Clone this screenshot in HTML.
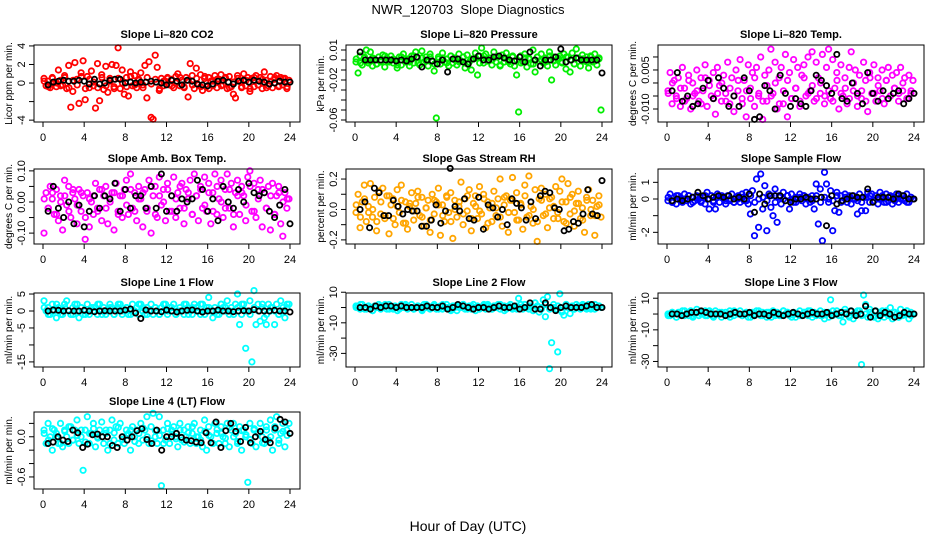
<!DOCTYPE html>
<html><head><meta charset="utf-8"><style>
html,body{margin:0;padding:0;background:#fff;}
svg{display:block;font-family:"Liberation Sans",Arial,sans-serif;}
</style></head><body>
<svg id="chart" width="936" height="540" viewBox="0 0 936 540" xmlns="http://www.w3.org/2000/svg">
<rect width="936" height="540" fill="#fff"/>
<text x="468" y="14" text-anchor="middle" font-size="13">NWR_120703&#160; Slope Diagnostics</text>
<text x="468" y="531" text-anchor="middle" font-size="14">Hour of Day (UTC)</text>
</svg>
<script>
const xTicks = [0,4,8,12,16,20,24];
const co2Col = [0.5,-0.3,0.2,-0.5,0.6,0.1,-0.4,1.4,0.3,-0.2,0.8,-0.6,1.9,-2.6,-0.9,2.2,0.4,-2.2,1.1,2.4,-1.8,0.7,-0.5,1.3,-0.3,-2.7,2.1,-1.9,0.9,-0.7,1.8,-1.0,0.5,2.0,-0.4,1.9,3.8,-0.6,1.4,-1.2,0.6,-1.4,1.2,-0.3,0.8,-0.5,0.4,1.1,-0.2,1.9,-1.6,2.3,-3.7,-3.9,3.0,1.7,-0.8,0.5,-0.3,0.2,0.6,-0.2,0.4,-0.5,0.7,1.0,-0.3,0.3,-0.4,0.6,-1.5,2.1,0.8,-0.6,1.6,-0.2,0.9,-0.8,0.5,-0.4,0.6,0.2,-0.3,0.8,-0.5,0.4,0.9,-0.2,0.5,-0.6,0.7,-0.4,-1.2,-1.6,0.8,0.3,-0.5,1.0,-0.3,0.6,-0.9,0.5,-0.4,0.8,-0.2,0.6,-0.6,1.2,0.3,-0.3,0.7,-0.5,0.4,0.8,-0.4,0.6,-0.2,0.5,-0.6,0.3];
const co2Core = [0.2,-0.4,0.5,0.0,-0.3,0.6,-0.5,0.3,-0.2,0.7,-0.6,0.4,0.1,-0.5,0.6,-0.3,0.2,-0.6,0.5,0.0,-0.4,0.7,-0.2,0.3,-0.5,0.6,-0.1,0.4,-0.6,0.2,0.5,-0.3,0.0,0.6,-0.5,0.3,-0.2,0.5,-0.4,0.7,-0.6,0.2,0.4,-0.3,0.6,-0.5,0.1,0.5,-0.4,0.3,-0.6,0.6,-0.2,0.4,-0.5,0.2,0.6,-0.3,0.5,-0.4];
const co2Blk = [-0.2,0.1,0.2,0.3,0.2,0.2,0.3,0.2,-0.1,0.4,-0.1,0.0,0.3,0.4,0.4,0.0,0.1,0.0,0.1,0.1,0.2,0.1,0.0,-0.2,0.3,0.2,-0.2,0.3,0.2,-0.1,-0.2,-0.3,-0.1,0.2,0.3,0.1,-0.1,0.2,0.3,0.1,0.3,0.2,0.1,-0.1,0.0,0.2,0.1,0.1];
const presCol = [-0.002,-0.013,0.004,-0.005,0.002,0.010,-0.003,0.008,-0.006,0.001,-0.004,0.003,-0.002,0.005,-0.007,0.002,-0.001,0.004,-0.003,0.000,-0.008,0.003,-0.005,0.006,-0.002,0.001,-0.006,0.004,-0.003,0.008,0.002,-0.005,0.009,-0.002,0.003,-0.006,0.006,-0.001,-0.011,-0.058,0.003,-0.004,0.007,-0.002,0.001,-0.006,0.004,-0.003,0.002,-0.005,0.006,-0.001,0.003,-0.008,0.005,-0.002,-0.010,0.001,0.007,-0.015,0.004,0.012,-0.003,0.006,-0.001,0.002,-0.005,0.008,-0.002,0.003,-0.006,0.005,-0.002,0.007,0.001,-0.004,0.003,-0.006,-0.015,-0.052,0.004,-0.002,0.006,-0.007,0.002,-0.004,0.010,-0.012,0.003,-0.001,0.006,-0.003,0.002,-0.006,0.008,-0.020,0.003,-0.005,0.001,0.004,-0.002,0.006,-0.009,0.003,-0.012,0.007,-0.004,0.011,0.002,-0.006,0.005,-0.001,0.003,-0.008,0.004,-0.002,0.006,-0.005,0.001,-0.050];
const presCore = [0.001,-0.003,0.003,-0.001,0.002,-0.004,0.000,0.004,-0.002,0.001,-0.005,0.003,0.000,-0.002,0.004,-0.003,0.002,-0.001,0.003,-0.004,0.001,0.002,-0.003,0.004,0.000,-0.002,0.003,-0.004,0.001,0.002,-0.003,0.004,-0.001,0.000,0.003,-0.005,0.002,-0.002,0.004,0.000,-0.003,0.002,0.001,-0.004,0.003,0.000,-0.002,0.004,-0.001,0.002,-0.003,0.003,0.000,-0.004,0.002,0.001,-0.002,0.003,-0.001,0.002];
const presBlk = [0.008,0.000,0.000,0.000,0.000,0.000,0.000,-0.001,0.000,-0.001,0.001,0.003,-0.007,0.000,-0.001,-0.004,0.000,-0.012,0.001,0.001,-0.002,-0.004,0.001,0.004,0.000,0.000,0.003,0.004,0.002,0.000,-0.001,0.003,-0.002,0.008,0.000,-0.006,0.000,0.000,0.003,0.011,-0.002,0.000,0.002,0.000,0.000,0.000,0.000,-0.013];
const tempCol = [-0.003,0.004,-0.008,0.001,-0.005,0.002,-0.009,0.006,-0.002,-0.006,0.003,-0.010,0.000,-0.004,0.005,-0.007,0.002,-0.003,0.007,-0.009,0.001,-0.005,0.004,-0.012,0.006,-0.001,-0.007,0.003,-0.004,0.008,-0.008,0.002,-0.011,0.005,-0.003,0.009,-0.006,0.001,-0.013,0.007,-0.002,0.004,-0.009,0.006,-0.005,0.010,-0.014,0.003,-0.007,0.005,0.013,-0.004,0.008,-0.010,0.002,0.006,-0.008,0.011,-0.013,0.004,-0.006,0.009,-0.002,0.006,-0.009,0.003,0.007,-0.005,0.010,-0.003,0.012,-0.007,0.008,0.002,-0.004,0.011,-0.008,0.006,0.013,-0.006,0.009,-0.002,0.004,-0.010,0.007,-0.005,0.002,-0.008,0.006,0.012,-0.003,0.005,-0.009,0.003,-0.006,0.008,0.001,-0.011,0.004,-0.004,0.007,-0.007,0.002,-0.003,0.005,-0.008,0.001,0.006,-0.005,0.003,-0.002,0.004,-0.007,0.006,-0.003,0.002,-0.006,0.003,-0.004,0.001];
const tempCore = [-0.004,0.000,-0.006,-0.002,-0.007,0.001,-0.005,-0.003,-0.008,0.002,-0.001,-0.006,-0.004,0.000,-0.007,-0.002,-0.005,0.001,-0.008,-0.003,-0.006,0.002,-0.004,-0.007,-0.001,-0.005,0.000,-0.008,-0.003,0.001,-0.006,-0.002,-0.007,0.002,-0.004,-0.001,-0.006,0.000,-0.005,-0.003,-0.007,0.001,-0.004,-0.002,-0.006,0.000,-0.005,-0.003,-0.007,0.002,-0.004,-0.001,-0.006,0.001,-0.005,-0.002,-0.004,0.000,-0.006,-0.003];
const tempBlk = [-0.003,0.004,-0.007,-0.005,-0.009,-0.008,-0.002,0.001,-0.006,0.002,-0.002,-0.009,-0.005,-0.009,0.002,-0.003,-0.014,-0.013,-0.001,-0.003,-0.010,0.003,-0.004,-0.009,-0.006,-0.008,-0.009,-0.003,0.003,0.001,-0.001,-0.004,0.011,-0.006,-0.007,0.000,-0.004,-0.008,0.004,-0.004,-0.007,-0.003,-0.006,-0.004,-0.003,-0.008,-0.006,-0.004];
const ambCol = [-0.10,0.03,-0.02,0.05,0.01,-0.04,0.04,-0.06,0.02,-0.09,0.07,-0.01,0.05,-0.05,0.03,0.01,-0.07,0.04,-0.03,0.02,-0.12,0.03,-0.08,0.00,-0.04,0.06,-0.02,0.04,-0.06,0.02,0.05,-0.07,0.01,0.03,-0.09,0.06,-0.03,0.02,-0.05,0.04,0.07,-0.04,0.09,-0.02,0.03,-0.06,0.05,0.01,-0.08,0.04,-0.03,0.07,-0.10,0.02,0.05,-0.05,0.08,-0.01,0.04,-0.06,0.06,-0.03,0.02,0.08,-0.05,0.03,-0.02,0.06,-0.07,0.04,0.01,0.07,-0.04,0.09,0.02,-0.06,0.05,-0.02,0.08,-0.03,0.06,-0.07,0.03,0.09,-0.04,0.01,0.07,-0.05,0.04,0.09,-0.02,0.06,-0.08,0.03,0.07,-0.04,0.05,0.02,-0.06,0.08,0.10,-0.03,0.06,-0.05,0.04,0.07,-0.08,0.03,-0.02,0.05,-0.09,0.06,-0.04,0.02,0.05,-0.07,-0.11,0.03,-0.02,0.01];
const ambCore = [0.01,-0.02,0.03,-0.04,0.00,0.02,-0.03,0.04,-0.01,0.03,-0.05,0.01,0.02,-0.03,0.04,-0.02,0.00,0.03,-0.04,0.02,-0.01,0.04,-0.03,0.01,0.03,-0.02,0.05,-0.04,0.02,0.00,0.04,-0.03,0.01,0.05,-0.02,0.03,-0.04,0.02,0.04,-0.01,0.03,-0.03,0.05,0.00,-0.02,0.04,-0.04,0.02,0.03,-0.01,0.05,-0.03,0.01,0.04,-0.02,0.02,-0.04,0.03,0.00,0.01];
const ambBlk = [-0.03,0.05,-0.02,-0.05,0.00,-0.07,-0.01,-0.08,-0.03,0.02,-0.02,0.02,0.01,0.06,-0.03,0.04,-0.02,0.02,0.02,-0.02,0.05,-0.02,0.09,-0.03,0.02,-0.03,0.01,0.00,0.01,0.07,0.04,-0.03,0.01,-0.06,0.05,0.00,-0.02,0.04,0.00,0.06,0.03,0.02,0.03,-0.03,-0.05,-0.01,0.04,-0.07];
const rhCol = [-0.02,0.10,-0.12,0.05,0.16,-0.08,0.02,0.17,-0.05,0.08,-0.14,0.12,-0.03,0.14,-0.06,0.09,-0.16,0.03,0.07,-0.10,0.13,-0.02,0.16,-0.09,0.05,-0.13,0.02,0.11,-0.07,0.04,0.12,-0.04,0.08,-0.11,0.01,0.06,-0.15,0.10,-0.03,0.05,0.14,-0.17,0.03,-0.08,0.09,-0.02,0.11,-0.19,0.06,-0.05,0.02,0.18,-0.10,0.07,-0.01,0.13,-0.14,0.04,0.09,-0.06,0.15,-0.03,0.10,-0.12,0.05,0.01,-0.08,0.12,-0.04,0.07,0.20,-0.11,0.03,0.09,-0.15,0.06,0.21,-0.02,0.11,-0.07,0.04,-0.13,0.16,-0.05,0.22,0.02,-0.09,0.13,-0.21,0.07,0.14,-0.04,0.10,-0.12,0.01,0.08,-0.06,0.15,-0.02,0.12,0.20,-0.08,0.05,0.17,-0.03,0.10,-0.11,0.04,0.12,-0.06,0.01,-0.15,0.08,0.13,-0.04,0.06,-0.17,0.02,0.09,-0.05];
const rhCore = [0.03,-0.05,0.07,-0.02,0.00,-0.08,0.05,-0.04,0.09,-0.06,0.02,0.06,-0.09,0.04,-0.01,0.08,-0.05,0.01,-0.07,0.06,0.03,-0.04,0.08,-0.08,0.00,0.05,-0.03,0.09,-0.06,0.02,-0.01,0.07,-0.09,0.04,0.01,-0.05,0.08,-0.02,0.06,-0.07,0.03,0.09,-0.04,0.00,-0.08,0.06,-0.03,0.07,0.02,-0.06,0.05,-0.09,0.08,-0.01,0.04,-0.07,0.06,0.00,-0.04,0.03];
const rhBlk = [0.00,0.05,-0.12,0.14,0.11,-0.04,-0.04,0.06,0.02,-0.03,0.00,-0.01,-0.01,-0.11,-0.11,-0.07,0.03,-0.09,-0.01,0.27,0.02,-0.01,0.07,-0.06,-0.07,0.08,-0.13,0.03,0.01,-0.05,0.00,-0.10,0.07,0.04,0.01,-0.07,0.05,-0.06,0.09,0.12,0.11,0.01,0.00,-0.14,-0.13,-0.08,-0.09,-0.03,0.13,-0.03,-0.04,0.19];
const sampCol = [-0.1,0.3,-0.2,0.1,-0.3,0.2,0.0,-0.2,0.3,-0.1,0.2,-0.3,0.1,-0.1,0.2,0.0,-0.2,0.1,-0.3,0.4,-0.6,0.2,-0.1,-0.6,0.3,-0.2,0.1,0.0,-0.3,0.2,-0.1,0.3,-0.2,0.1,0.0,-0.2,0.3,-0.1,0.4,-0.3,-0.9,0.5,-2.2,1.2,-1.7,1.5,-0.6,0.8,-1.9,0.3,-0.5,-1.0,0.6,-1.4,0.2,-0.3,0.4,-0.1,0.2,-0.6,0.3,-0.2,0.1,0.0,0.3,-0.1,0.2,-0.3,0.1,-0.2,0.2,-0.6,0.9,-1.5,0.6,-2.5,1.6,0.9,-0.2,0.5,-1.9,-0.7,0.4,-0.8,0.2,-0.1,0.3,-0.2,0.1,-0.3,0.2,0.0,-0.9,0.3,-0.7,0.1,-0.7,0.4,-0.2,0.3,-0.1,0.2,-0.3,0.4,0.0,-0.2,0.3,-0.1,0.2,-0.3,0.1,0.3,-0.2,0.0,0.2,-0.1,0.3,-0.2,0.1,0.0];
const sampCore = [0.1,-0.2,0.2,-0.1,0.0,0.2,-0.2,0.1,-0.1,0.2,0.0,-0.2,0.1,0.2,-0.1,0.0,-0.2,0.2,0.1,-0.1,0.2,-0.2,0.0,0.1,-0.1,0.2,-0.2,0.1,0.0,0.2,-0.1,-0.2,0.1,0.2,0.0,-0.1,0.2,-0.2,0.1,0.0,-0.1,0.2,-0.2,0.1,0.2,0.0,-0.1,-0.2,0.1,0.2,-0.1,0.0,0.2,-0.2,0.1,-0.1,0.2,0.0,-0.2,0.1];
const sampBlk = [-0.1,0.0,-0.1,0.0,0.1,0.4,0.2,0.0,0.1,0.2,0.1,0.2,0.0,0.1,0.0,0.3,-0.8,0.3,-0.3,0.2,0.2,0.2,-0.1,-0.2,0.0,0.0,0.1,0.0,0.0,0.1,-1.6,0.2,-0.3,-0.1,0.0,0.2,0.1,0.1,0.6,-0.2,0.1,0.1,0.1,0.0,0.3,0.2,0.0,0.0];
const l1Col = [3,0,1,-1,2,0,-2,1,0,-1,2,3,0,-1,1,2,0,-2,1,-1,0,2,-1,1,0,1,-1,2,0,1,-1,0,2,1,-1,0,1,2,-1,0,1,-1,0,2,0,1,-1,2,0,-1,1,0,2,-1,1,0,-1,1,0,2,-1,1,0,2,-1,0,1,0,-1,2,1,0,-1,2,1,0,-1,2,0,1,4,0,-2,1,0,-1,2,1,0,3,-1,1,0,2,5,-4,-1,2,-11,0,3,-15,6,-4,2,-3,1,-2,-4,2,0,1,-4,2,-1,3,0,-2,1,2];
const l1Core = [1,-1,0,2,-1,1,0,-1,2,1,-1,0,1,2,-1,0,1,-1,2,0,1,-1,0,2,1,-1,0,1,-1,2,0,1,-1,0,2,-1,1,0,2,-1,1,0,-1,2,1,0,-1,1,2,0,-1,1,0,2,-1,1,0,-1,1,2];
const l1Blk = [0,0.3,0.2,0,0.1,0,0,0.2,0,-0.2,0,0.1,0,0,0,0.3,0.6,-0.6,-2.2,0.3,0,0,-0.2,0.3,0,-0.3,0,0.2,0.3,0,-0.3,0,0,0.3,0,0,-0.2,0,0.1,0,0.4,0,0,0,0.2,0,0,-0.3];
const l2Col = [1,0,-1,2,0,-1,1,0,-2,1,0,2,-1,0,1,-1,2,0,-1,1,0,-1,2,0,1,-1,0,2,-1,0,1,0,-1,2,0,1,-1,0,2,-1,0,1,-1,0,2,0,-1,1,0,-2,1,0,2,-1,0,1,-1,2,0,1,-1,0,1,-1,2,0,-1,1,0,2,-1,0,1,-1,0,2,-1,0,1,6,0,-1,2,0,-1,1,-2,3,1,-3,-1,5,-6,7,-40,-23,2,-1,-29,9,-3,-5,2,0,-4,1,-1,2,0,-1,1,0,-1,2,0,1,-1,0,1,0];
const l2Core = [0,2,-1,1,-2,0,1,2,-1,0,-2,1,2,0,-1,1,-2,2,0,1,-1,2,0,-2,1,0,2,-1,1,-2,0,2,1,-1,0,2,-2,1,0,-1,2,0,1,-2,1,0,2,-1,0,1,-2,2,0,-1,1,2,0,-1,2,1];
const l2Blk = [0,0,-1,1,0,1,1,0,1,0,0,0,0,1,0,0,1,-1,0,2,1,0,-1,0,0,-1,0,1,0,0,1,-1,0,3,-1,-1,3,0,-2,0,1,0,0,0,1,2,0,0];
const l3Col = [0,-1,1,0,-2,1,0,2,-1,0,1,2,-1,0,3,-1,1,0,2,-1,0,1,-1,2,0,1,-2,0,1,-1,2,0,-1,1,0,2,-1,0,1,-2,0,1,-1,2,0,-1,1,0,-2,1,0,2,-1,1,0,-1,2,0,1,-1,0,1,-2,0,2,-1,1,0,-1,2,0,1,-1,0,2,-1,-3,0,1,9,-1,0,2,-1,1,-5,3,0,-1,2,-3,1,0,2,-32,12,6,-2,3,0,-1,2,-3,1,0,-2,2,-1,4,-3,1,0,-2,3,-1,0,2,-3,1,0];
const l3Core = [-1,1,-2,0,2,-1,-2,1,0,-1,2,-2,0,1,-1,-2,2,0,-1,1,-2,0,2,-1,1,-2,0,-1,2,1,-2,0,-1,1,2,-2,0,-1,1,-2,2,0,-1,1,-2,0,2,-1,0,1,-2,-1,2,0,-1,1,-2,0,2,-1];
const l3Blk = [0,0,-1,0,1,1,2,1,0,0,0,-1,0,1,0,0,1,-1,0,0,-1,1,0,-1,0,1,0,-1,0,1,0,0,1,-1,0,1,0,2,-1,0,5,-2,2,-1,1,0,-2,-1,1,0,0];
const l4Col = [0.1,-0.1,0.2,0.0,-0.2,0.1,0.05,-0.1,0.2,-0.15,0.1,0.0,-0.1,0.15,-0.05,0.1,0.25,-0.1,0.0,-0.5,0.1,0.3,-0.1,0.05,0.2,-0.15,0.0,0.1,0.22,-0.1,0.05,-0.2,0.1,0.25,-0.05,0.15,-0.1,0.2,0.0,-0.1,0.1,0.05,-0.2,0.15,0.0,0.1,-0.1,0.2,-0.05,0.1,0.3,-0.1,0.15,0.35,0.0,-0.1,0.3,-0.73,0.1,-0.05,0.2,-0.1,0.1,0.15,0.0,-0.15,0.2,-0.05,0.1,0.0,0.15,-0.1,0.05,0.2,-0.1,0.0,0.1,-0.15,0.25,-0.2,0.15,0.0,-0.1,0.2,0.05,-0.1,0.15,0.0,-0.1,0.2,-0.15,0.1,0.2,0.05,-0.1,0.15,-0.2,0.1,0.0,-0.68,0.2,-0.1,0.1,-0.15,0.05,0.2,0.0,-0.1,0.15,-0.05,0.25,-0.2,0.1,0.3,-0.1,0.05,0.2,-0.15,0.1,0.2];
const l4Core = [0.05,-0.05,0.12,0.0,-0.1,0.08,0.15,-0.05,0.02,0.1,-0.08,0.05,0.12,-0.02,0.0,0.1,-0.1,0.06,0.14,-0.04,0.02,0.1,-0.07,0.05,0.13,0.0,-0.06,0.09,0.02,-0.1,0.12,0.04,-0.03,0.1,-0.08,0.06,0.15,0.0,-0.05,0.08,0.02,-0.1,0.11,0.05,-0.02,0.14,0.0,-0.07,0.09,0.03,-0.04,0.12,0.06,-0.09,0.1,0.0,0.15,-0.05,0.08,0.02];
const l4Blk = [-0.1,-0.08,0.0,-0.05,-0.07,0.1,0.06,-0.16,-0.11,0.03,0.04,0.0,0.0,-0.13,-0.16,0.0,-0.05,0.0,0.09,0.12,-0.04,-0.1,0.1,-0.2,0.0,0.0,0.05,-0.01,-0.05,-0.06,-0.08,-0.09,0.06,-0.09,0.22,-0.16,0.09,0.2,0.08,-0.07,0.14,-0.09,0.0,0.08,-0.04,-0.09,0.13,0.26,0.22,0.05];

const co2Ticks=[4,2,0,-2,-4], co2Labels=["4","2","0","","-4"];
const presTicks=[0.01,0,-0.01,-0.02,-0.03,-0.04,-0.05,-0.06], presLabels=["0.01","","","-0.02","","","","-0.06"];
const tempTicks=[0.010,0.005,0,-0.005,-0.010], tempLabels=["","0.005","","","-0.010"];
const ambTicks=[0.10,0.05,0,-0.05,-0.10], ambLabels=["0.10","","0.00","","-0.10"];
const rhTicks=[0.2,0.1,0,-0.1,-0.2], rhLabels=["0.2","","0.0","","-0.2"];
const sampTicks=[1,0,-1,-2], sampLabels=["1","0","","-2"];
const l1Ticks=[5,0,-5,-10,-15], l1Labels=["5","0","-5","","-15"];
const l2Ticks=[10,0,-10,-20,-30], l2Labels=["10","","-10","","-30"];
const l3Ticks=[10,0,-10,-20,-30], l3Labels=["10","","-10","","-30"];
const l4Ticks=[0.2,0,-0.2,-0.4,-0.6], l4Labels=["","0.0","","","-0.6"];

const panels = [
 {name:"co2",title:"Slope Li\u2013820 CO2",ylab:"Licor ppm per min.",col:0,row:0,ymin:-4.2,ymax:4.1,c:co2Col,k:co2Core,b:co2Blk,t:co2Ticks,tl:co2Labels,color:"#ff0000",xl:true},
 {name:"pressure",title:"Slope Li\u2013820 Pressure",ylab:"kPa per min.",col:1,row:0,ymin:-0.062,ymax:0.015,c:presCol,k:presCore,b:presBlk,t:presTicks,tl:presLabels,color:"#00ee00",xl:true},
 {name:"li820-temp",title:"Slope Li\u2013820 Temp.",ylab:"degrees C per min.",col:2,row:0,ymin:-0.015,ymax:0.0146,c:tempCol,k:tempCore,b:tempBlk,t:tempTicks,tl:tempLabels,color:"#ff00ff",xl:true},
 {name:"amb-box-temp",title:"Slope Amb. Box Temp.",ylab:"degrees C per min.",col:0,row:1,ymin:-0.135,ymax:0.106,c:ambCol,k:ambCore,b:ambBlk,t:ambTicks,tl:ambLabels,color:"#ff00ff",xl:true},
 {name:"gas-stream-rh",title:"Slope Gas Stream RH",ylab:"percent per min.",col:1,row:1,ymin:-0.227,ymax:0.266,c:rhCol,k:rhCore,b:rhBlk,t:rhTicks,tl:rhLabels,color:"#ffa500",xl:false},
 {name:"sample-flow",title:"Slope Sample Flow",ylab:"ml/min per min.",col:2,row:1,ymin:-2.7,ymax:1.8,c:sampCol,k:sampCore,b:sampBlk,t:sampTicks,tl:sampLabels,color:"#0000ff",xl:true},
 {name:"line1-flow",title:"Slope Line 1 Flow",ylab:"ml/min per min.",col:0,row:2,ymin:-16.5,ymax:5.3,c:l1Col,k:l1Core,b:l1Blk,t:l1Ticks,tl:l1Labels,color:"#00ffff",xl:true},
 {name:"line2-flow",title:"Slope Line 2 Flow",ylab:"ml/min per min.",col:1,row:2,ymin:-38.9,ymax:9.5,c:l2Col,k:l2Core,b:l2Blk,t:l2Ticks,tl:l2Labels,color:"#00ffff",xl:true},
 {name:"line3-flow",title:"Slope Line 3 Flow",ylab:"ml/min per min.",col:2,row:2,ymin:-33.5,ymax:13.3,c:l3Col,k:l3Core,b:l3Blk,t:l3Ticks,tl:l3Labels,color:"#00ffff",xl:true},
 {name:"line4-flow",title:"Slope Line 4 (LT) Flow",ylab:"ml/min per min.",col:0,row:3,ymin:-0.78,ymax:0.37,c:l4Col,k:l4Core,b:l4Blk,t:l4Ticks,tl:l4Labels,color:"#00ffff",xl:true}
];
const colLeft=[34,346,658], rowTop=[45,169,293,412], rowBot=[122,244,367,489], boxW=266;
const NS="http://www.w3.org/2000/svg";
const svg=document.getElementById("chart");
function mk(tag,attrs,parent){const e=document.createElementNS(NS,tag);for(const k in attrs)e.setAttribute(k,attrs[k]);(parent||svg).appendChild(e);return e;}

panels.forEach(p=>{
  const L=colLeft[p.col], T=rowTop[p.row], B=rowBot[p.row];
  const xs=h=>L+9+h*(247/24);
  const ys=v=>B-(v-p.ymin)/(p.ymax-p.ymin)*(B-T);
  const g=mk("g",{});
  
  
  const title=mk("text",{x:L+boxW/2,y:T-7,"text-anchor":"middle","font-size":"11","font-weight":"bold"},g);
  title.textContent=p.title;
  
  
  const pts=mk("g",{fill:"none","stroke-width":"1.8"},g);
  
  
  [p.c,p.k].forEach((arr,ai)=>{
    arr.forEach((v,i)=>{
      const h=(i+(ai?0.3:0.5))*24/arr.length;
      const c=mk("circle",{cx:xs(h).toFixed(1),cy:ys(v).toFixed(1),r:"2.7",stroke:p.color},pts);
      
      
    });
  });
  p.b.forEach((v,i)=>{
    const h=0.5+i*23.5/(p.b.length-1);
    const c=mk("circle",{cx:xs(h).toFixed(1),cy:ys(v).toFixed(1),r:"2.6",stroke:"#000"},pts);
    
    
  });
  const box=mk("rect",{x:L,y:T,width:boxW,height:B-T,fill:"none",stroke:"#000","stroke-width":"1"},g);
  
  
  const xa=mk("g",{stroke:"#000","font-size":"11"},g);
  
  
  xTicks.forEach(t=>{
    mk("line",{x1:xs(t),x2:xs(t),y1:B,y2:B+5},xa);
    if(p.xl){const tx=mk("text",{x:xs(t),y:B+19,"text-anchor":"middle",stroke:"none",fill:"#000"},xa);tx.textContent=t;}
  });
  const ya=mk("g",{stroke:"#000","font-size":"11"},g);
  
  
  p.t.forEach((t,i)=>{
    const y=ys(t);
    mk("line",{x1:L-5,x2:L,y1:y,y2:y},ya);
    if(p.tl[i]){const tx=mk("text",{x:L-9,y:y,"text-anchor":"middle",stroke:"none",fill:"#000",transform:`rotate(-90 ${L-9} ${y})`},ya);tx.textContent=p.tl[i];}
  });
  const yc=(T+B)/2;
  const yt=mk("text",{x:L-22,y:yc,"text-anchor":"middle","font-size":"10",transform:`rotate(-90 ${L-22} ${yc})`},g);
  yt.textContent=p.ylab;
  
  
});
</script>
</body></html>
